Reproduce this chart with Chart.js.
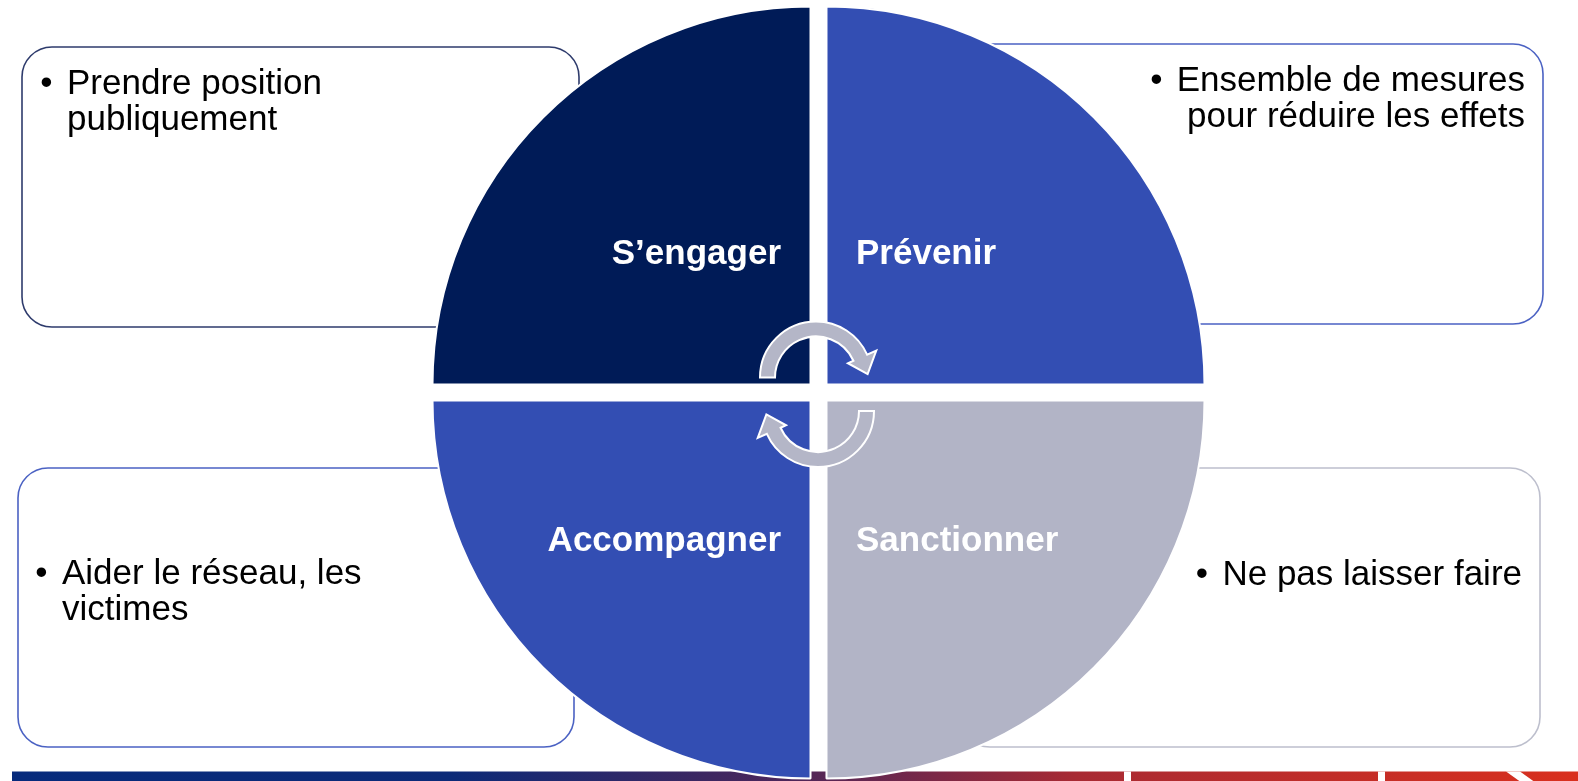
<!DOCTYPE html>
<html lang="fr">
<head>
<meta charset="utf-8">
<title>S’engager, Prévenir, Sanctionner, Accompagner</title>
<script src="https://cdn.jsdelivr.net/npm/chart.js@4.4.1/dist/chart.umd.min.js"></script>
<style>
  html, body { margin: 0; padding: 0; background: #fff; overflow: hidden; }
  #cycle { display: block; }
</style>
</head>
<body>
<canvas id="cycle" width="1578" height="781"></canvas>
<script>
'use strict';

// Quadrants, sens horaire à partir du haut gauche
const etapes = ['S’engager', 'Prévenir', 'Sanctionner', 'Accompagner'];
const parts = [25, 25, 25, 25];
const couleurs = ['#001B57', '#334EB3', '#B2B4C6', '#334EB3'];

// Texte des encadrés, même ordre que les étapes
const descriptions = [
    ['Prendre position', 'publiquement'],
    ['Ensemble de mesures', 'pour réduire les effets'],
    ['Ne pas laisser faire'],
    ['Aider le réseau, les', 'victimes']
];

const POLICE = '"Liberation Sans", Arial, sans-serif';

(function() {
    // mise en page des encadrés (px)
    const encadres = [
        { x: 22,  y: 47,  w: 557, h: 280, bord: '#2E3B6C', align: 'left',  tx: 67,   lignes: [94, 130] },
        { x: 960, y: 44,  w: 583, h: 280, bord: '#4B62C3', align: 'right', tx: 1525, lignes: [91, 127] },
        { x: 960, y: 468, w: 580, h: 279, bord: '#BDBFCD', align: 'right', tx: 1522, lignes: [585] },
        { x: 18,  y: 468, w: 556, h: 279, bord: '#4B62C3', align: 'left',  tx: 62,   lignes: [584, 620] }
    ];

    function rectArrondi(ctx, x, y, w, h, r) {
        ctx.beginPath();
        ctx.moveTo(x + r, y);
        ctx.arcTo(x + w, y, x + w, y + h, r);
        ctx.arcTo(x + w, y + h, x, y + h, r);
        ctx.arcTo(x, y + h, x, y, r);
        ctx.arcTo(x, y, x + w, y, r);
        ctx.closePath();
    }

    function bandeau(ctx) {
        const y = 771.5, h = 10;
        const g = ctx.createLinearGradient(12, 0, 1578, 0);
        g.addColorStop(0, '#062A7C');
        g.addColorStop(0.28, '#0C2A78');
        g.addColorStop(0.5, '#4E2659');
        g.addColorStop(0.68, '#A82A33');
        g.addColorStop(1, '#D9301E');
        ctx.fillStyle = g;
        ctx.fillRect(12, y, 1566, h);
        ctx.fillStyle = '#fff';
        ctx.fillRect(1124, y, 7, h);
        ctx.fillRect(1378, y, 7, h);
        ctx.beginPath();
        ctx.moveTo(1506, y);
        ctx.lineTo(1520, y);
        ctx.lineTo(1534, y + h);
        ctx.lineTo(1520, y + h);
        ctx.closePath();
        ctx.fill();
    }

    // flèche courbe : arc de 'debut' (sens horaire) puis pointe tangente
    function fleche(ctx, cx, cy, debut) {
        const rExt = 56, rInt = 41, rMil = (rExt + rInt) / 2;
        const fin = debut + Math.PI - 0.42;
        const c = Math.cos(fin), s = Math.sin(fin);
        const bx = cx + c * rMil, by = cy + s * rMil;
        ctx.beginPath();
        ctx.arc(cx, cy, rExt, debut, fin, false);
        ctx.lineTo(cx + c * (rExt + 10), cy + s * (rExt + 10));
        ctx.lineTo(bx - s * 18, by + c * 18);
        ctx.lineTo(cx + c * (rInt - 6), cy + s * (rInt - 6));
        ctx.lineTo(cx + c * rInt, cy + s * rInt);
        ctx.arc(cx, cy, rInt, fin, debut, true);
        ctx.closePath();
        ctx.fill();
        ctx.stroke();
    }

    const decor = {
        id: 'decor',
        beforeDatasetsDraw(chart) {
            const ctx = chart.ctx;
            ctx.save();
            bandeau(ctx);
            ctx.lineWidth = 1.6;
            ctx.font = '35px ' + POLICE;
            ctx.textBaseline = 'alphabetic';
            encadres.forEach((b, i) => {
                rectArrondi(ctx, b.x, b.y, b.w, b.h, 30);
                ctx.fillStyle = '#fff';
                ctx.fill();
                ctx.strokeStyle = b.bord;
                ctx.stroke();

                ctx.fillStyle = '#000';
                const lignes = descriptions[i];
                ctx.textAlign = b.align;
                lignes.forEach((t, k) => ctx.fillText(t, b.tx, b.lignes[k]));
                // puce devant la première ligne
                const debutTexte = b.align === 'left' ? b.tx : b.tx - ctx.measureText(lignes[0]).width;
                ctx.textAlign = 'center';
                ctx.fillText('•', debutTexte - 20.5, b.lignes[0]);
            });
            ctx.restore();
        },
        afterDatasetsDraw(chart) {
            const ctx = chart.ctx;
            const arcs = chart.getDatasetMeta(0).data;
            const cx = arcs[0].x, cy = arcs[0].y;
            ctx.save();

            // flèches du cycle
            ctx.fillStyle = '#B4B6C7';
            ctx.strokeStyle = '#fff';
            ctx.lineWidth = 2;
            ctx.lineJoin = 'miter';
            fleche(ctx, cx - 2.5, cy - 15, Math.PI);
            fleche(ctx, cx - 0.5, cy + 18.5, 0);

            // libellés des quadrants
            ctx.font = 'bold 35px ' + POLICE;
            ctx.fillStyle = '#fff';
            ctx.textBaseline = 'alphabetic';
            arcs.forEach((arc, i) => {
                const mid = (arc.startAngle + arc.endAngle) / 2;
                const droite = Math.cos(mid) > 0;
                const bas = Math.sin(mid) > 0;
                ctx.textAlign = droite ? 'left' : 'right';
                ctx.fillText(etapes[i], cx + (droite ? 37.5 : -37.5), cy + (bas ? 158 : -129));
            });
            ctx.restore();
        }
    };

    const ctx = document.getElementById('cycle').getContext('2d');
    new Chart(ctx, {
        type: 'pie',
        data: {
            labels: etapes,
            datasets: [{
                data: parts,
                backgroundColor: couleurs,
                borderColor: '#fff',
                borderWidth: 2,
                offset: 45.2,
                hoverOffset: 0
            }]
        },
        options: {
            responsive: false,
            animation: false,
            events: [],
            rotation: -90,
            radius: 378,
            layout: { padding: { left: 59, right: 0, top: 4, bottom: 0 } },
            plugins: {
                legend: { display: false },
                tooltip: { enabled: false }
            }
        },
        plugins: [decor]
    });
})();
</script>
</body>
</html>
